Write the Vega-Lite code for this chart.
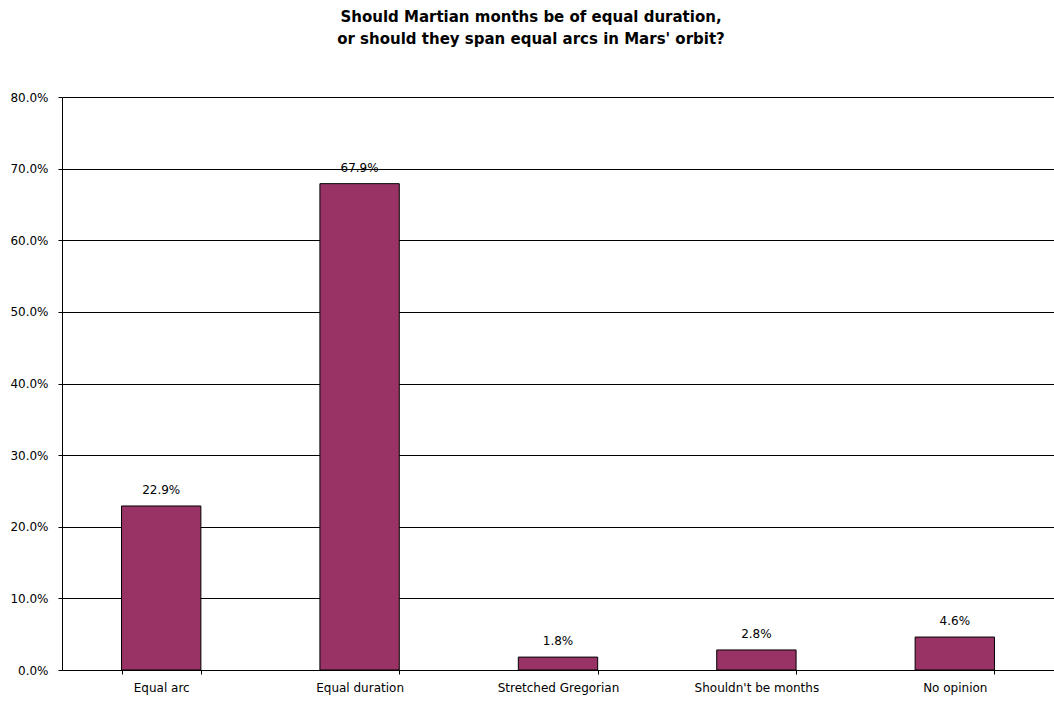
{
  "$schema": "https://vega.github.io/schema/vega-lite/v6.json",
  "width": 992,
  "height": 573,
  "autosize": {"type": "none"},
  "padding": {"left": 62, "top": 97, "right": 0, "bottom": 35},
  "background": "white",
  "title": {
    "text": ["Should Martian months be of equal duration,", "or should they span equal arcs in Mars' orbit?"],
    "font": "DejaVu Sans",
    "fontSize": 15,
    "fontWeight": "bold",
    "color": "black",
    "anchor": "middle",
    "dx": -27,
    "offset": 44,
    "lineHeight": 22
  },
  "config": {
    "view": {"stroke": null},
    "font": "DejaVu Sans"
  },
  "data": {
    "values": [
      {"answer": "Equal arc", "share": 0.229},
      {"answer": "Equal duration", "share": 0.679},
      {"answer": "Stretched Gregorian", "share": 0.018},
      {"answer": "Shouldn't be months", "share": 0.028},
      {"answer": "No opinion", "share": 0.046}
    ]
  },
  "encoding": {
    "x": {
      "field": "answer",
      "type": "nominal",
      "sort": null,
      "scale": {"paddingInner": 0.6, "paddingOuter": 0.3},
      "axis": {
        "title": null,
        "labelAngle": 0,
        "labelFont": "DejaVu Sans",
        "labelFontSize": 12,
        "labelColor": "black",
        "labelPadding": 8,
        "domainColor": "black",
        "tickColor": "black",
        "tickSize": 4,
        "tickBand": "extent",
        "grid": false
      }
    },
    "y": {
      "field": "share",
      "type": "quantitative",
      "scale": {"domain": [0, 0.8], "nice": false},
      "axis": {
        "title": null,
        "format": ".1%",
        "values": [0, 0.1, 0.2, 0.3, 0.4, 0.5, 0.6, 0.7, 0.8],
        "labelFont": "DejaVu Sans",
        "labelFontSize": 12,
        "labelColor": "black",
        "labelPadding": 10,
        "domainColor": "black",
        "tickColor": "black",
        "tickSize": 4,
        "grid": true,
        "gridColor": "black",
        "gridOpacity": 1
      }
    }
  },
  "layer": [
    {
      "mark": {"type": "bar", "color": "#993366", "stroke": "black", "strokeWidth": 1}
    },
    {
      "mark": {"type": "text", "baseline": "bottom", "dy": -9, "fontSize": 12, "font": "DejaVu Sans", "color": "black"},
      "encoding": {
        "text": {"field": "share", "type": "quantitative", "format": ".1%"}
      }
    }
  ]
}
